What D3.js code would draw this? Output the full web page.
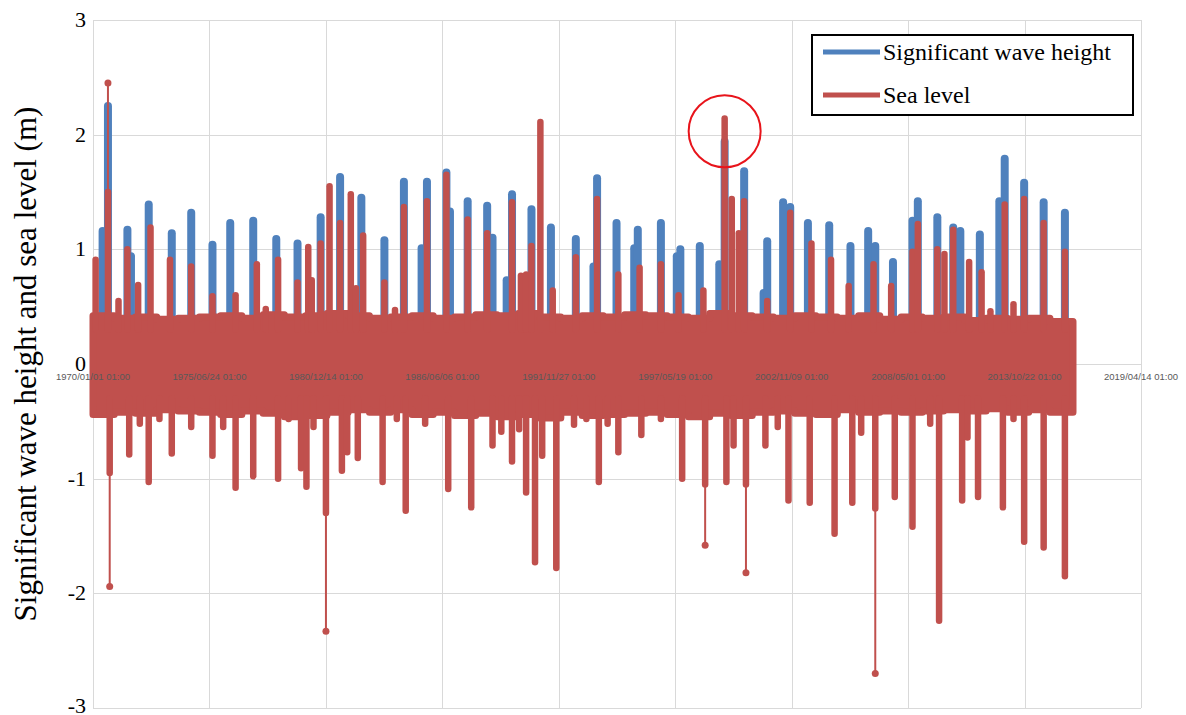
<!DOCTYPE html>
<html>
<head>
<meta charset="utf-8">
<script src="https://cdn.jsdelivr.net/npm/d3@7"></script>
<style>
  body { margin: 0; background: #fff; }
  svg { display: block; }
</style>
</head>
<body>
<svg id="chart" width="1186" height="715"></svg>
<script>
// significant wave height: storm peaks (month, metres)
var waveDates = ["1970-06","1970-09","1971-08","1971-10","1972-08","1973-09","1974-08","1975-08","1976-06","1977-07",
  "1978-08","1979-08","1980-09","1981-08","1982-08","1983-09","1984-08","1985-06","1985-09","1986-08",
  "1986-10","1987-08","1988-07","1988-10","1989-06","1989-09","1990-08","1991-07","1992-09","1993-07",
  "1993-09","1994-08","1995-06","1995-08","1996-09","1997-06","1997-08","1998-07","1999-06","1999-09",
  "2000-08","2001-07","2001-09","2002-06","2002-10","2003-08","2004-08","2005-08","2006-06","2006-10",
  "2007-08","2008-07","2008-10","2009-09","2010-06","2010-10","2011-09","2012-08","2012-11","2013-10",
  "2014-09","2015-09"];
var wavePeaks = [1.16,2.25,1.17,0.94,1.39,1.14,1.32,1.04,1.23,1.25,
  1.09,1.05,1.28,1.63,1.45,1.08,1.59,1.01,1.59,1.67,
  1.33,1.42,1.38,1.10,0.73,1.48,1.35,1.19,1.09,0.85,
  1.62,1.23,1.01,1.17,1.23,0.94,1.00,1.03,0.87,1.94,
  1.68,0.62,1.07,1.41,1.37,1.23,1.21,1.03,1.16,1.03,
  0.89,1.25,1.42,1.28,1.19,1.16,1.13,1.42,1.79,1.58,
  1.41,1.32];

// sea level: positive surges
var highDates = ["1970-02","1970-09","1971-03","1971-08","1972-02","1972-09","1973-08","1974-08","1975-08","1976-09",
  "1977-09","1978-02","1978-09","1979-08","1980-02","1980-04","1980-09","1981-02","1981-08","1982-02",
  "1982-05","1982-09","1983-09","1984-03","1984-08","1985-09","1986-08","1987-08","1988-07","1989-09",
  "1990-02","1990-05","1990-08","1991-01","1991-08","1992-09","1993-09","1994-09","1995-09","1996-09",
  "1997-07","1998-09","1999-09","2000-01","2000-05","2000-08","2001-09","2002-10","2003-10","2004-09",
  "2005-07","2006-09","2007-07","2008-07","2008-10","2009-09","2010-01","2010-06","2011-03","2011-10",
  "2012-03","2012-11","2013-04","2013-10","2014-09","2015-09"];
var highPeaks = [0.91,2.45,0.55,1.00,0.69,1.19,0.91,0.85,0.59,0.60,
  0.87,0.48,0.91,0.71,1.02,0.73,1.05,1.55,1.23,1.48,
  0.66,1.12,0.71,0.47,1.37,1.42,1.65,1.26,1.14,1.41,
  0.77,0.78,1.03,2.11,0.64,0.93,1.44,0.78,0.84,0.87,
  0.60,0.64,2.14,1.44,1.14,1.42,0.55,1.32,1.05,0.91,
  0.68,0.87,0.68,0.98,1.22,1.00,0.96,1.17,0.89,0.80,
  0.46,1.39,0.52,1.44,1.23,0.98];

// sea level: negative surges
var lowDates = ["1970-10","1971-09","1972-03","1972-08","1973-02","1973-09","1974-08","1975-08","1976-02","1976-09",
  "1977-07","1978-09","1979-03","1979-10","1980-01","1980-05","1980-12","1981-09","1981-12","1982-06",
  "1983-08","1984-04","1984-09","1985-08","1986-09","1987-10","1988-10","1989-03","1989-09","1990-01",
  "1990-05","1990-10","1991-02","1991-10","1992-08","1993-03","1993-10","1994-03","1994-09","1995-10",
  "1996-09","1997-09","1998-10","1999-10","2000-02","2000-09","2001-08","2002-03","2002-09","2003-09",
  "2004-11","2005-09","2006-02","2006-10","2007-09","2008-07","2009-05","2009-10","2010-11","2011-02",
  "2011-08","2012-10","2013-04","2013-10","2014-09","2015-09"];
var lowPeaks = [-1.94,-0.79,-0.52,-1.03,-0.48,-0.78,-0.55,-0.80,-0.55,-1.08,
  -0.98,-1.00,-0.48,-0.91,-1.07,-0.55,-2.33,-0.93,-0.77,-0.82,
  -1.03,-0.48,-1.28,-0.52,-1.09,-1.25,-0.71,-0.59,-0.85,-0.57,
  -1.12,-1.73,-0.80,-1.78,-0.53,-0.48,-1.03,-0.52,-0.77,-0.62,
  -0.48,-1.00,-1.58,-1.03,-0.71,-1.82,-0.71,-0.55,-1.19,-1.21,
  -1.48,-1.21,-0.60,-2.70,-1.16,-1.42,-0.52,-2.24,-1.19,-0.64,
  -1.16,-1.25,-0.48,-1.55,-1.60,-1.85];

// sparse (single hourly points) tails: month, end of dense part
var tailDates = ["1970-09","1970-10","1980-12","1998-10","2000-09","2006-10"];
var tailStarts = [1.50,-0.95,-1.30,-1.05,-1.05,-1.26];

// envelope of the tidal band, one value per year
var bandYears = d3.range(1970, 2017);
var bandTop = [0.42,0.40,0.41,0.39,0.40,0.41,0.42,0.40,0.43,0.41,
  0.42,0.44,0.42,0.40,0.41,0.42,0.40,0.41,0.43,0.42,
  0.44,0.41,0.40,0.42,0.41,0.43,0.42,0.41,0.40,0.44,
  0.42,0.41,0.40,0.42,0.41,0.40,0.42,0.39,0.41,0.40,
  0.41,0.38,0.40,0.39,0.40,0.37,0.37];
var bandBottom = [-0.44,-0.42,-0.43,-0.40,-0.41,-0.42,-0.44,-0.41,-0.43,-0.46,
  -0.45,-0.42,-0.40,-0.42,-0.40,-0.44,-0.42,-0.45,-0.43,-0.46,
  -0.44,-0.47,-0.42,-0.45,-0.44,-0.43,-0.42,-0.44,-0.46,-0.43,
  -0.45,-0.42,-0.41,-0.43,-0.44,-0.40,-0.42,-0.41,-0.42,-0.41,
  -0.40,-0.41,-0.39,-0.42,-0.40,-0.42,-0.42];

var yTicks = [-3, -2, -1, 0, 1, 2, 3];
var seriesNames = ["Significant wave height", "Sea level"];
var seriesColors = ["#4f81bd", "#c0504d"];

var margin = {top: 20, left: 93},
  plotW = 1048,
  plotH = 688,
  svg = d3.select("#chart"),
  parseMonth = d3.utcParse("%Y-%m"),
  start = new Date(Date.UTC(1970, 0, 1, 1)),
  dayMs = 86400000,
  end = new Date(start.getTime() + 18000 * dayMs),
  x = d3.scaleUtc().domain([start, end]).range([margin.left, margin.left + plotW]),
  y = d3.scaleLinear().domain([-3, 3]).range([margin.top + plotH, margin.top]),
  xTicks = d3.range(0, 18001, 2000).map(function(d) { return new Date(start.getTime() + d * dayMs); }),
  fmt = d3.utcFormat("%Y/%m/%d %H:%M"),
  mid = function(s) { return new Date(parseMonth(s).getTime() + 14 * dayMs); };

svg.append("rect").attr("width", 1186).attr("height", 715).attr("fill", "#fff");

// grid
var grid = svg.append("g").attr("stroke", "#d9d9d9").attr("stroke-width", 1);
grid.selectAll(".h").data(yTicks).enter().append("line")
  .attr("x1", margin.left).attr("x2", margin.left + plotW)
  .attr("y1", function(d) { return Math.round(y(d)) + 0.5; })
  .attr("y2", function(d) { return Math.round(y(d)) + 0.5; });
grid.selectAll(".v").data(xTicks).enter().append("line")
  .attr("y1", margin.top).attr("y2", margin.top + plotH)
  .attr("x1", function(d) { return Math.round(x(d)) + 0.5; })
  .attr("x2", function(d) { return Math.round(x(d)) + 0.5; });

var data = svg.append("g");

// wave height spikes
data.append("g")
  .attr("stroke", seriesColors[0]).attr("stroke-width", 8).attr("stroke-linecap", "round")
  .selectAll("line").data(waveDates).enter().append("line")
  .attr("x1", function(d) { return x(mid(d)); })
  .attr("x2", function(d) { return x(mid(d)); })
  .attr("y1", y(0.3))
  .attr("y2", function(d, i) { return y(wavePeaks[i]); });

// tidal band
var band = bandYears.map(function(yr, i) {
  return {t: new Date(Date.UTC(yr, 0, 1)), top: bandTop[i], bottom: bandBottom[i]};
});
band[band.length - 1].t = parseMonth("2016-02");
data.append("path")
  .datum(band)
  .attr("fill", seriesColors[1])
  .attr("stroke", seriesColors[1])
  .attr("stroke-width", 7)
  .attr("stroke-linejoin", "round")
  .attr("d", d3.area().curve(d3.curveStepAfter)
    .x(function(d) { return x(d.t); })
    .y0(function(d) { return y(d.bottom); })
    .y1(function(d) { return y(d.top); }));

var tailOf = function(d) { return tailDates.indexOf(d); };

var red = data.append("g")
  .attr("stroke", seriesColors[1]).attr("stroke-linecap", "round");

function spikes(dates, peaks, base, cls) {
  red.selectAll("." + cls).data(dates).enter().append("line")
    .attr("class", cls)
    .attr("stroke-width", 6.5)
    .attr("x1", function(d) { return x(mid(d)); })
    .attr("x2", function(d) { return x(mid(d)); })
    .attr("y1", y(base))
    .attr("y2", function(d, i) {
      var k = tailOf(d);
      if (k >= 0 && (tailStarts[k] > 0) === (base > 0)) return y(tailStarts[k]);
      return y(peaks[i]);
    });
  dates.forEach(function(d, i) {
    var k = tailOf(d);
    if (k < 0 || (tailStarts[k] > 0) !== (base > 0)) return;
    red.append("line")
      .attr("stroke-width", 2)
      .attr("x1", x(mid(d))).attr("x2", x(mid(d)))
      .attr("y1", y(tailStarts[k])).attr("y2", y(peaks[i]));
    red.append("circle")
      .attr("fill", seriesColors[1]).attr("stroke", "none")
      .attr("cx", x(mid(d))).attr("cy", y(peaks[i])).attr("r", 3.5);
  });
}
spikes(highDates, highPeaks, 0.3, "hi");
spikes(lowDates, lowPeaks, -0.3, "lo");

// x labels over the data
svg.append("g")
  .attr("font-family", "Liberation Sans, Arial, sans-serif")
  .attr("font-size", 9.5)
  .attr("fill", "#595959")
  .attr("text-anchor", "middle")
  .selectAll("text").data(xTicks).enter().append("text")
  .attr("x", function(d) { return x(d); })
  .attr("y", y(0) + 16)
  .text(fmt);

// y labels
svg.append("g")
  .attr("font-family", "Liberation Serif, Times New Roman, serif")
  .attr("font-size", 22)
  .attr("fill", "#000")
  .attr("text-anchor", "end")
  .selectAll("text").data(yTicks).enter().append("text")
  .attr("x", 86)
  .attr("y", function(d) { return Math.min(y(d) + 7, 713); })
  .text(function(d) { return d; });

svg.append("text")
  .attr("transform", "translate(36," + y(0) + ") rotate(-90)")
  .attr("font-family", "Liberation Serif, Times New Roman, serif")
  .attr("font-size", 31)
  .attr("text-anchor", "middle")
  .text("Significant wave height and sea level (m)");

// legend
var legend = svg.append("g").attr("transform", "translate(812,35)");
legend.append("rect")
  .attr("width", 321).attr("height", 80)
  .attr("fill", "#fff").attr("stroke", "#000").attr("stroke-width", 2);
seriesNames.forEach(function(name, i) {
  var ly = 17 + i * 43;
  legend.append("line")
    .attr("x1", 11).attr("x2", 68).attr("y1", ly).attr("y2", ly)
    .attr("stroke", seriesColors[i]).attr("stroke-width", 5);
  legend.append("text")
    .attr("x", 71).attr("y", ly + 8)
    .attr("font-family", "Liberation Serif, Times New Roman, serif")
    .attr("font-size", 24)
    .text(name);
});

// highlight of the 1999 event
svg.append("circle")
  .attr("cx", x(mid("1999-09")))
  .attr("cy", y(2.03))
  .attr("r", 36)
  .attr("fill", "none")
  .attr("stroke", "#e8141b")
  .attr("stroke-width", 2);
</script>
</body>
</html>
